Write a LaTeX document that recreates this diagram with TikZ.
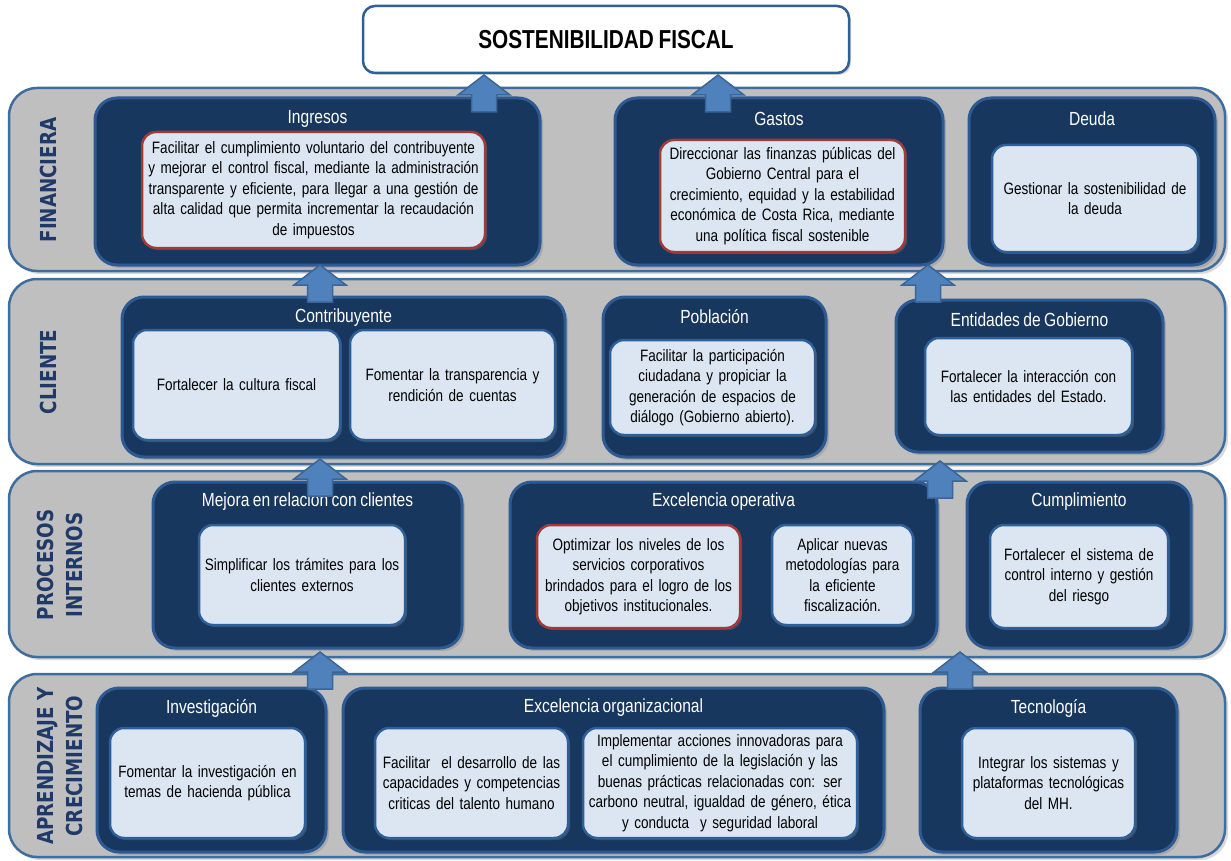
\documentclass[tikz,border=0pt]{standalone}
\usepackage{fontspec}
\setmainfont{Liberation Sans}[FakeStretch=0.82,WordSpace=0.8]
\newfontfamily\titlefont{Liberation Sans}[FakeStretch=0.8,WordSpace=0.8]
\newfontfamily\labfont{DejaVu Sans}[FakeStretch=0.83]
\usetikzlibrary{shadows}
\definecolor{bandfill}{HTML}{BFBFBF}
\definecolor{bandline}{HTML}{3F6D9E}
\definecolor{darkfill}{HTML}{17375E}
\definecolor{darkline}{HTML}{2D5A92}
\definecolor{innerfill}{HTML}{DCE6F2}
\definecolor{innerline}{HTML}{2F5F98}
\definecolor{redline}{HTML}{A33A3A}
\definecolor{arrowfill}{HTML}{4F81BD}
\definecolor{arrowline}{HTML}{3A6596}
\definecolor{labcol}{HTML}{1F3A68}
\newcommand\dbox[5]{%
  \pgfmathsetmacro\myW{#4-#2}\pgfmathsetmacro\myH{#5-#3}%
  \node[darkbox, minimum width=\myW pt, minimum height=\myH pt] (#1) at ({(#2+#4)/2},{(#3+#5)/2}) {};}
\newcommand\ibox[7]{%
  \pgfmathsetmacro\myW{#5-#3}\pgfmathsetmacro\myH{#6-#4}\pgfmathsetmacro\myT{#5-#3-10}%
  \node[#1, minimum width=\myW pt, minimum height=\myH pt, text width=\myT pt] (#2) at ({(#3+#5)/2},{(#4+#6)/2}) {#7};}
\begin{document}
\begin{tikzpicture}[x=1pt,y=-1pt,
  bandbox/.style={draw=bandline, line width=2.5pt, fill=bandfill, rounded corners=28pt,
    drop shadow={shadow xshift=3pt, shadow yshift=-3pt, opacity=0.3}},
  darkbox/.style={draw=darkline, line width=3pt, fill=darkfill, rounded corners=22pt, inner sep=0pt,
    drop shadow={shadow xshift=3pt, shadow yshift=-3pt, opacity=0.35}},
  innerbox/.style={draw=innerline, line width=2.5pt, fill=innerfill, rounded corners=14pt,
    inner xsep=5pt, inner ysep=2pt, align=center, font={\fontsize{16.5}{20.5}\selectfont},
    drop shadow={shadow xshift=2pt, shadow yshift=-2pt, opacity=0.35}},
  redbox/.style={innerbox, draw=redline},
  boxtitle/.style={text=white, font={\fontsize{19}{22}\selectfont}, inner sep=0pt},
  lanelabel/.style={text=labcol, font={\labfont\bfseries\fontsize{22}{29}\selectfont}, rotate=90, align=center},
  titlebox/.style={draw=innerline, line width=2.5pt, fill=white, rounded corners=12pt,
    font={\titlefont\bfseries\fontsize{26}{30}\selectfont},
    drop shadow={shadow xshift=2pt, shadow yshift=-2pt, opacity=0.3}},
  arrowstyle/.style={fill=arrowfill, draw=arrowline, line width=1.5pt, line join=miter},
  uparrow/.pic={\path[arrowstyle] (0,0) -- (26,20) -- (12.5,20) -- (12.5,37) -- (-12.5,37) -- (-12.5,20) -- (-26,20) -- cycle;}
]
\useasboundingbox (0,0) rectangle (1231,861);

% title
\node[titlebox, minimum width=486pt, minimum height=67pt] (title) at (606,39.5) {SOSTENIBILIDAD FISCAL};

% bands
\node[bandbox, minimum width=1216pt, minimum height=183pt] (band1) at (617,179.5) {};
\node[bandbox, minimum width=1216pt, minimum height=185pt] (band2) at (617,371.5) {};
\node[bandbox, minimum width=1216pt, minimum height=186pt] (band3) at (617,564) {};
\node[bandbox, minimum width=1216pt, minimum height=183pt] (band4) at (617,765.5) {};

% lane labels
\node[lanelabel] (lab1) at (48,180) {FINANCIERA};
\node[lanelabel] (lab2) at (48,372) {CLIENTE};
\node[lanelabel] (lab3) at (60,565) {PROCESOS\\INTERNOS};
\node[lanelabel] (lab4) at (60,766) {APRENDIZAJE Y\\CRECIMIENTO};

% FINANCIERA
\dbox{ingresos}{95}{98}{540}{265}
\dbox{gastos}{615}{98}{943}{265}
\dbox{deuda}{969}{98}{1215}{265}
\node[boxtitle] (ingresosT) at (317.5,119) {Ingresos};
\node[boxtitle] (gastosT) at (779,119) {Gastos};
\node[boxtitle] (deudaT) at (1092,119) {Deuda};
\ibox{redbox}{ingresosI}{142}{132}{485}{248}{Facilitar el cumplimiento voluntario del contribuyente\\y mejorar el control fiscal, mediante la administración\\transparente y eficiente, para llegar a una gestión de\\alta calidad que permita incrementar la recaudación\\de impuestos}
\ibox{redbox}{gastosI}{660}{140}{905}{252}{Direccionar las finanzas públicas del\\Gobierno Central para el\\crecimiento, equidad y la estabilidad\\económica de Costa Rica, mediante\\una política fiscal sostenible}
\ibox{innerbox}{deudaI}{992}{145}{1198}{252}{Gestionar la sostenibilidad de\\la deuda}

% CLIENTE
\dbox{contrib}{122}{297}{565}{457}
\dbox{poblacion}{603}{297}{826}{457}
\dbox{entidades}{896}{300}{1163}{452}
\node[boxtitle] (contribT) at (343.5,318) {Contribuyente};
\node[boxtitle] (poblacionT) at (714.5,317) {Población};
\node[boxtitle] (entidadesT) at (1029.5,320) {Entidades de Gobierno};
\ibox{innerbox}{contribA}{133}{330}{340}{440}{Fortalecer la cultura fiscal}
\ibox{innerbox}{contribB}{350}{330}{555}{440}{Fomentar la transparencia y\\rendición de cuentas}
\ibox{innerbox}{poblacionI}{610}{340}{815}{435}{Facilitar la participación\\ciudadana y propiciar la\\generación de espacios de\\diálogo (Gobierno abierto).}
\ibox{innerbox}{entidadesI}{925}{338}{1132}{435}{Fortalecer la interacción con\\las entidades del Estado.}

% PROCESOS INTERNOS
\dbox{mejora}{153}{482}{462}{648}
\dbox{excop}{510}{482}{937}{648}
\dbox{cumpl}{967}{482}{1191}{648}
\node[boxtitle] (mejoraT) at (307.5,502) {Mejora en relacion con clientes};
\node[boxtitle] (excopT) at (723.5,502) {Excelencia operativa};
\node[boxtitle] (cumplT) at (1079,502) {Cumplimiento};
\ibox{innerbox}{mejoraI}{199}{525}{405}{625}{Simplificar los trámites para los\\clientes externos}
\ibox{redbox}{excopA}{537}{525}{740}{628}{Optimizar los niveles de los\\servicios corporativos\\brindados para el logro de los\\objetivos institucionales.}
\ibox{innerbox}{excopB}{772}{525}{913}{625}{Aplicar nuevas\\metodologías para\\la eficiente\\fiscalización.}
\ibox{innerbox}{cumplI}{990}{525}{1168}{628}{Fortalecer el sistema de\\control interno y gestión\\del riesgo}

% APRENDIZAJE Y CRECIMIENTO
\dbox{invest}{97}{688}{326}{852}
\dbox{excorg}{343}{688}{884}{852}
\dbox{tecno}{920}{688}{1177}{852}
\node[boxtitle] (investT) at (211.5,708) {Investigación};
\node[boxtitle] (excorgT) at (613.5,708) {Excelencia organizacional};
\node[boxtitle] (tecnoT) at (1048.5,708) {Tecnología};
\ibox{innerbox}{investI}{110}{728}{305}{838}{Fomentar la investigación en\\temas de hacienda pública}
\ibox{innerbox}{excorgA}{375}{728}{568}{838}{Facilitar \ el desarrollo de las\\capacidades y competencias\\criticas del talento humano}
\ibox{innerbox}{excorgB}{583}{728}{857}{838}{Implementar acciones innovadoras para\\el cumplimiento de la legislación y las\\buenas prácticas relacionadas con: ser\\carbono neutral, igualdad de género, ética\\y conducta \ y seguridad laboral}
\ibox{innerbox}{tecnoI}{962}{728}{1135}{838}{Integrar los sistemas y\\plataformas tecnológicas\\del MH.}

% block arrows (upward)
\pic (arrA) at (484,75) {uparrow};
\pic (arrB) at (718,75) {uparrow};
\pic (arrC) at (320,265) {uparrow};
\pic (arrD) at (928,265) {uparrow};
\pic (arrE) at (320,459) {uparrow};
\pic (arrF) at (940,461) {uparrow};
\pic (arrG) at (320,652) {uparrow};
\pic (arrH) at (960,652) {uparrow};
\end{tikzpicture}
\end{document}
